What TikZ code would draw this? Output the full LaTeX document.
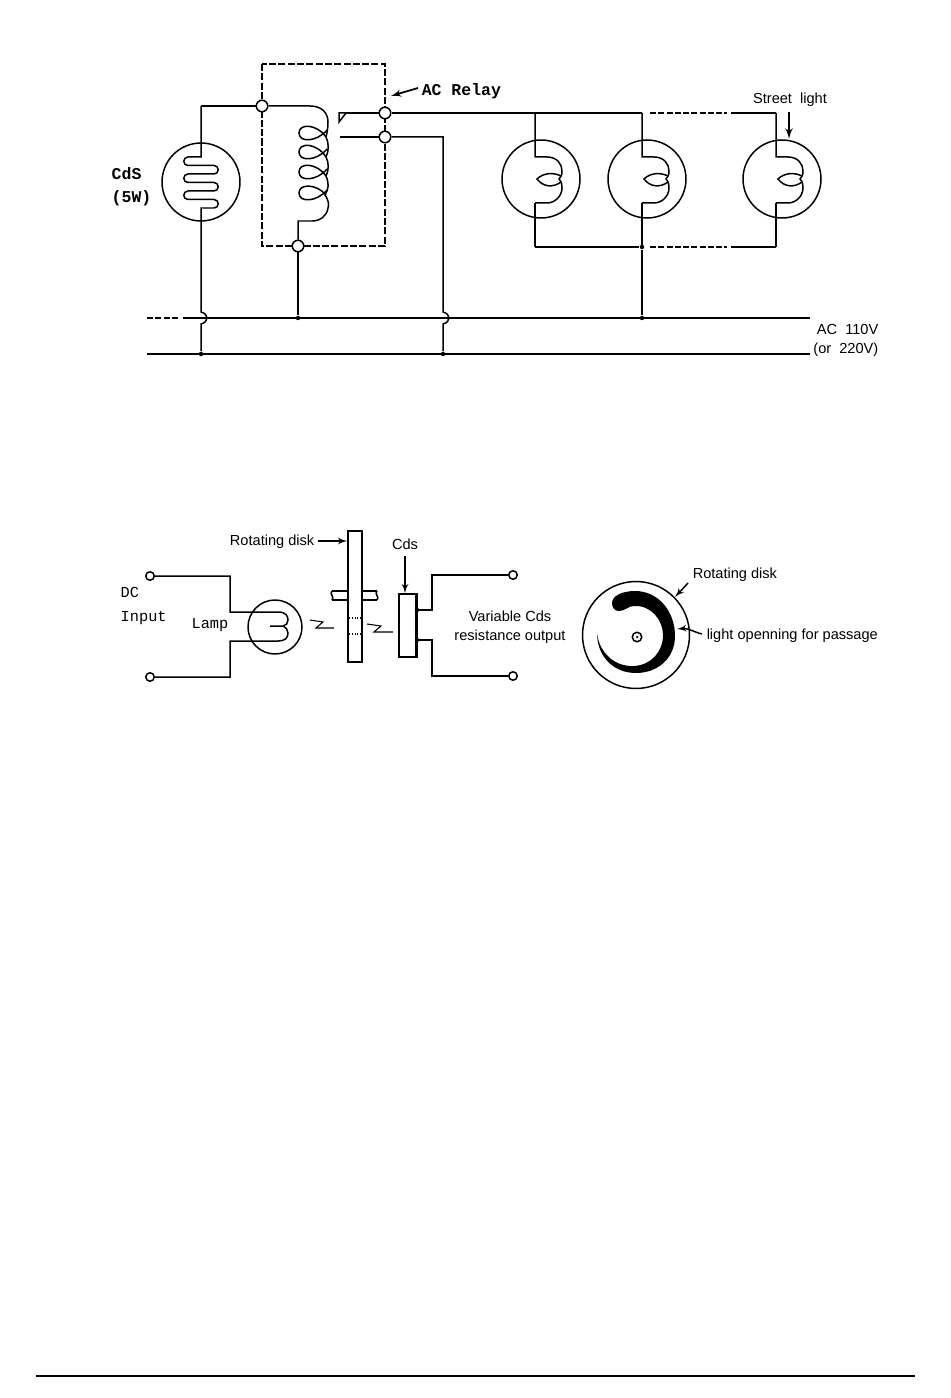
\documentclass[tikz,border=0pt]{standalone}
\usepackage{fontspec}
\setmainfont{Liberation Sans}
\newfontfamily\typefont{Liberation Mono}
\usetikzlibrary{arrows}
\tikzset{
  wire/.style={line width=0.85pt},
  thin wire/.style={line width=0.6pt},
  gap wire/.style={line width=0.95pt,dash pattern=on 3.5pt off 1.2pt},
  term/.style={circle,draw,fill=white,line width=0.85pt,minimum size=0.23cm,inner sep=0pt},
  smallterm/.style={circle,draw,fill=white,line width=0.85pt,minimum size=0.17cm,inner sep=0pt},
  joint/.style={circle,fill=black,minimum size=0.09cm,inner sep=0pt},
  globe/.style={circle,draw,line width=0.85pt,inner sep=0pt},
  sanslabel/.style={font=\fontsize{8.3}{10.8}\selectfont,align=center,inner sep=0pt},
  typelabel/.style={font=\typefont\fontsize{9.4}{13}\selectfont\bfseries,align=left,inner sep=0pt},
  handlabel/.style={font=\typefont\fontsize{8.7}{13.5}\selectfont,align=left,inner sep=0pt}
}
\begin{document}
\begin{tikzpicture}[x=0.02cm,y=-0.02cm,wire,>=latex']
  \useasboundingbox (0,0) rectangle (950,1398);

  \draw[line width=1.2pt,dash pattern=on 4pt off 1.3pt] (262,64) rectangle (385,246);

  \node (cds) [globe,minimum size=1.56cm] at (201,182) {};
  \node (coilA) [term] at (262,106) {};
  \node (coilB) [term] at (298,246) {};
  \node (relA) [term] at (385,113) {};
  \node (relB) [term] at (385,137) {};
  \coordinate (cdsT) at (201,106);
  \coordinate (railA) at (810,318);
  \coordinate (railB) at (810,354);
  \node (jA) [joint] at (298,318) {};
  \node (jB) [joint] at (642,318) {};
  \node (jC) [joint] at (201,354) {};
  \node (jD) [joint] at (443,354) {};
  \node (jE) [joint] at (642,247) {};

  \draw[gap wire] (147,318) -- (178,318);
  \draw (183,318) -- (railA);
  \draw (147,354) -- (railB);

  \draw (cdsT) -- (201,157) -- (188,157)
    arc[start angle=270,end angle=90,radius=4.25] -- (214,165.5)
    arc[start angle=-90,end angle=90,radius=4.25] -- (188,174)
    arc[start angle=270,end angle=90,radius=4.25] -- (214,182.5)
    arc[start angle=-90,end angle=90,radius=4.25] -- (188,191)
    arc[start angle=270,end angle=90,radius=4.25] -- (214,199.5)
    arc[start angle=-90,end angle=90,radius=4.25] -- (201,208) -- (cds.south);
  \draw (cdsT) -- (coilA);
  \draw (coilA) -- (310,106) .. controls (322,106) and (328,113) .. (328,122)
    .. controls (328,128) and (327,133) .. (326,137)
    .. controls (329,143) and (329,151) .. (326,157)
    .. controls (329,163) and (329,170) .. (326,176)
    .. controls (329,183) and (329,189) .. (325,195)
    .. controls (329,201) and (329,205) .. (328,208)
    .. controls (327,216) and (320,221) .. (312,221) -- (298,221) -- (coilB);
  \foreach \c/\l in {137/133,157/152,176/172,195/193}
    \draw (326,\c) .. controls (317,\l-9) and (299,\l-10) .. (299,\l)
      .. controls (299,\l+10) and (317,\l+9) .. (327,\l-3);
  \draw (coilB) -- (jA);
  \draw (cds.south) -- (201,312) .. controls (209,314) and (209,322) .. (201,324) -- (jC);
  \draw (relB) -- (443,137) -- (443,312) .. controls (451,314) and (451,322) .. (443,324) -- (jD);
  \draw (340,137) -- (relB);
  \draw (345,113) -- (relA);
  \draw[fill=white] (339,113) -- (346,113) -- (339,122) -- cycle;

  \foreach \cx/\vx/\n in {541/535/P,647/642/Q,782/776/R} {
    \node (lamp\n) [globe,minimum size=1.56cm] at (\cx,179) {};
    \draw (\vx,113) -- (\vx,157) -- (\vx+12,157)
      .. controls (\vx+22,157) and (\vx+27,164) .. (\vx+27,171)
      .. controls (\vx+27,175) and (\vx+26,177) .. (\vx+24,179)
      .. controls (\vx+27,182) and (\vx+27,185) .. (\vx+27,188)
      .. controls (\vx+27,196) and (\vx+20,203) .. (\vx+12,203) -- (\vx,203);
    \draw (\vx,203) -- (\vx,247);
    \draw (\vx+26,176) .. controls (\vx+18,172) and (\vx+8,173) .. (\vx+2,179)
      .. controls (\vx+8,187) and (\vx+18,188) .. (\vx+26,182);
  }
  \draw (relA) -- (642,113);
  \draw[gap wire] (650,113) -- (727,113);
  \draw (731,113) -- (776,113);
  \draw (535,247) -- (jE);
  \draw[gap wire] (650,247) -- (727,247);
  \draw (731,247) -- (776,247);
  \draw (jE) -- (jB);

  \node (relayText) [typelabel,anchor=west] at (421,91) {AC Relay};
  \draw[->,line width=1pt] (relayText.west) ++(-3,-3) -- (391,96);
  \node (cdsText) [typelabel,anchor=west] at (111,187) {CdS\\(5W)};
  \node (streetText) [sanslabel] at (790,100) {Street\ \ light};
  \draw[->,line width=1.1pt] (789,112) -- (789,139);
  \node (acText) [sanslabel,align=right,anchor=north east] at (879,324) {AC\ \ 110V\\(or\ \ 220V)};

  \node (inA) [smallterm] at (150,576) {};
  \node (inB) [smallterm] at (150,677) {};
  \node (outA) [smallterm] at (513,575) {};
  \node (outB) [smallterm] at (513,676) {};
  \node (lamp) [globe,minimum size=1.08cm] at (275,627) {};
  \draw (inA) -- (230,576) -- (230,612) -- (278,612)
    .. controls (286,612) and (288,616) .. (288,620)
    .. controls (288,623) and (286,626) .. (283,626) -- (270,626);
  \draw (283,626) .. controls (286,627) and (288,630) .. (288,633)
    .. controls (288,638) and (285,641) .. (278,641) -- (230,641) -- (230,677) -- (inB);
  \node (disk) [draw,fill=white,minimum width=0.28cm,minimum height=2.62cm,inner sep=0pt] at (355,596.5) {};
  \draw (332,591) -- (disk.west |- 332,591);
  \draw (332,600) -- (disk.west |- 332,600);
  \draw (disk.east |- 362,591) -- (377,591);
  \draw (disk.east |- 362,600) -- (377,600);
  \draw (332,591) .. controls (329,594) and (335,597) .. (332,600);
  \draw (377,591) .. controls (374,594) and (380,597) .. (377,600);
  \draw[thin wire,densely dotted] (349,618) -- (361,618);
  \draw[thin wire,densely dotted] (349,634) -- (361,634);
  \draw[thin wire] (310,620) -- (323,622) -- (316,628) -- (334,628);
  \draw[thin wire] (367,624) -- (381,626) -- (374,632) -- (393,632);
  \node (cell) [draw,minimum width=0.34cm,minimum height=1.26cm,inner sep=0pt] at (407.5,625.5) {};
  \draw[line width=1.8pt] (cell.north east) -- (cell.south east);
  \draw (cell.east |- 416,610) -- (432,610) -- (432,575) -- (outA);
  \draw (cell.east |- 416,640) -- (432,640) -- (432,676) -- (outB);
  \node (jF) [joint] at (417,610) {};
  \node (jG) [joint] at (417,640) {};

  \node (diskText) [sanslabel,anchor=east] at (315,542) {Rotating\ disk};
  \draw[->] (318,541) -- (disk.west |- 348,541);
  \node (cdsLabel) [sanslabel] at (405,544) {Cds};
  \draw[->] (405,556) -- (cell.north -| 405,594);
  \node (dcText) [handlabel,anchor=west] at (120,606) {DC\\Input};
  \node (lampText) [handlabel] at (210,625) {Lamp};
  \node (varText) [sanslabel] at (510,627) {Variable\ Cds\\resistance\ output};

  \node (wheel) [globe,minimum size=2.14cm] at (636,635) {};
  \node (hub) [circle,draw,minimum size=0.19cm,inner sep=0pt] at (637,637) {};
  \node (hubdot) [joint,minimum size=0.05cm] at (637,637) {};
  \fill (612,603) .. controls (612,596) and (622,591) .. (635,591)
    .. controls (658,591) and (675,611) .. (675,636)
    .. controls (675,658) and (658,673) .. (636,673)
    .. controls (612,673) and (597,655) .. (597,633)
    .. controls (599,652) and (614,667) .. (634,666)
    .. controls (651,665) and (663,652) .. (663,635)
    .. controls (663,620) and (651,605) .. (634,606)
    .. controls (628,606) and (625,611) .. (619,611)
    .. controls (615,611) and (612,608) .. (612,603) -- cycle;
  \node (wheelText) [sanslabel,anchor=west] at (692,575) {Rotating\ disk};
  \draw[->] (688,583) -- (675,597);
  \node (gapText) [sanslabel,anchor=west] at (706,636) {light\ openning\ for\ passage};
  \draw[->] (702,634) .. controls (694,632) and (688,628) .. (677,629);

  \coordinate (ruleA) at (36,1376);
  \coordinate (ruleB) at (915,1376);
  \draw[thin wire] (ruleA) -- (ruleB);
\end{tikzpicture}
\end{document}
